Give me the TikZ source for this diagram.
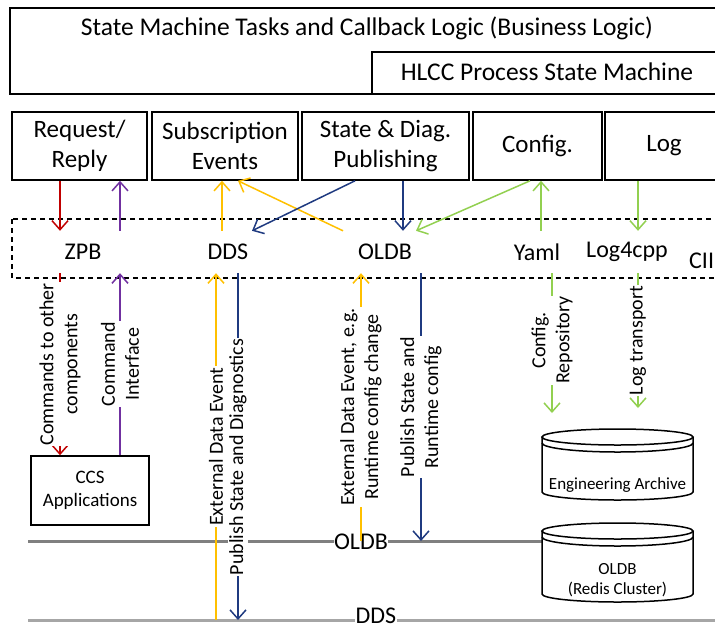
\documentclass[tikz,border=0pt]{standalone}
\usepackage{fontspec}
\setmainfont{Carlito}
\usetikzlibrary{arrows.meta}

\definecolor{cmdred}{HTML}{C00000}
\definecolor{cmdpurple}{HTML}{7030A0}
\definecolor{evtyellow}{HTML}{FFC000}
\definecolor{pubblue}{HTML}{1F3A80}
\definecolor{cfggreen}{HTML}{92D050}
\definecolor{busdark}{HTML}{808080}
\definecolor{buslight}{HTML}{A6A6A6}

\begin{document}
\begin{tikzpicture}[
  x=1pt, y=-1pt,
  >={Straight Barb[length=9pt,width=16pt]},
  box/.style={draw,line width=1.6pt,inner sep=0,minimum height=68,align=center,font=\fontsize{25}{30}\selectfont},
  api/.style={inner sep=0,minimum height=42,font=\fontsize{24}{28}\selectfont},
  flow/.style={->,line width=1.5pt},
  note/.style={rotate=90,fill=white,text=black,inner sep=1pt,align=center,font=\fontsize{20}{24}\selectfont},
  bus/.style={line width=3pt},
  buslabel/.style={fill=white,inner sep=0.5pt,anchor=base,font=\fontsize{24}{28}\selectfont},
  dbtext/.style={align=center,font=\fontsize{17}{20}\selectfont}
  ]

  \useasboundingbox (0,0) rectangle (715,630);

  % business logic and process state machine
  \draw[line width=1.6pt] (10,8) rectangle (730,94);
  \draw[line width=1.6pt] (372,52) rectangle (730,94);
  \node[font=\fontsize{25.5}{30}\selectfont] (logic) at (367,28) {State Machine Tasks and Callback Logic (Business Logic)};
  \node[font=\fontsize{25.5}{30}\selectfont] (hlcc) at (547,72) {HLCC Process State Machine};

  % interface boxes
  \node[box,minimum width=135] (req) at (79.5,146) {Request/\\Reply};
  \node[box,minimum width=146] (sub) at (225,146) {Subscription\\Events};
  \node[box,minimum width=167] (pub) at (385.5,146) {State \& Diag.\\Publishing};
  \node[box,minimum width=129] (cfg) at (537.5,146) {Config.};
  \node[box,minimum width=118] (log) at (664,146) {Log};

  % CII layer
  \draw[line width=1.2pt,dash pattern=on 5pt off 4pt] (12,219) rectangle (730,278);
  \node[api] (zpb) at (83,252) {ZPB};
  \node[api] (dds) at (228,252) {DDS};
  \node[api] (oldb) at (385,252) {OLDB};
  \node[api] (yaml) at (537,252) {Yaml};
  \node[api] (lfc) at (627,252) {Log4cpp};
  \node[api,anchor=west] (cii) at (689,261) {CII};

  % columns of the arrows
  \coordinate (xcmd) at (60,0);
  \coordinate (xif) at (120,0);
  \coordinate (xsub) at (222,0);
  \coordinate (xsubin) at (238,0);
  \coordinate (xddsin) at (252,0);
  \coordinate (xoldbout) at (343,0);
  \coordinate (xpubout) at (355,0);
  \coordinate (xpuboldb) at (403,0);
  \coordinate (xoldbcfg) at (416,0);
  \coordinate (xcfgout) at (530,0);
  \coordinate (xyaml) at (541,0);
  \coordinate (xlog) at (638,0);
  \coordinate (xddsevt) at (216,0);
  \coordinate (xddspub) at (238,0);
  \coordinate (xoldbevt) at (361,0);
  \coordinate (xoldbpub) at (421,0);
  \coordinate (xrepo) at (552,0);

  % buses
  \coordinate (oldbbus) at (28,541);
  \coordinate (redisw) at (542,541);
  \coordinate (ddsbus) at (28,620);
  \coordinate (ddsend) at (730,620);
  \draw[bus,busdark] (oldbbus) -- (redisw);
  \draw[bus,buslight] (ddsbus) -- (ddsend);
  \node[buslabel] (oldbname) at (361,549.5) {OLDB};
  \node[buslabel] (ddsname) at (376,623.5) {DDS};

  % CCS applications
  \node[box,minimum width=118,minimum height=69,font=\fontsize{19}{23}\selectfont] (ccs) at (90,490.5) {CCS\\Applications};

  % databases
  \foreach \t/\b in {429/500,523/602}{
    \draw[line width=1.5pt] (617.5,{\t+8}) ellipse [x radius=75.5,y radius=8];
    \draw[line width=1.5pt] (542,{\t+14}) arc[start angle=180,end angle=0,x radius=75.5,y radius=9];
    \draw[line width=1.5pt] (542,{\t+8}) -- (542,{\b-8}) arc[start angle=180,end angle=0,x radius=75.5,y radius=8] -- (693,{\t+8});
  }
  \node[dbtext] (arch) at (617.5,485) {Engineering Archive};
  \node[dbtext] (redis) at (617.5,580) {OLDB\\(Redis Cluster)};
  \coordinate (repoend) at (552,413);
  \coordinate (logend) at (638,408);

  % interfaces to the CII layer
  \draw[flow,cmdred] (req.south -| xcmd) -- (zpb.north -| xcmd);
  \draw[flow,cmdpurple] (zpb.north -| xif) -- (req.south -| xif);
  \draw[flow,evtyellow] (dds.north -| xsub) -- (sub.south -| xsub);
  \draw[flow,evtyellow] (oldb.north -| xoldbout) -- (sub.south -| xsubin);
  \draw[flow,pubblue] (pub.south -| xpubout) -- (dds.north -| xddsin);
  \draw[flow,pubblue] (pub.south -| xpuboldb) -- (oldb.north -| xpuboldb);
  \draw[flow,cfggreen] (cfg.south -| xcfgout) -- (oldb.north -| xoldbcfg);
  \draw[flow,cfggreen] (yaml.north -| xyaml) -- (cfg.south -| xyaml);
  \draw[flow,cfggreen] (log.south -| xlog) -- (lfc.north -| xlog);

  % CII layer to the outside
  \draw[flow,cmdred] (zpb.south -| xcmd) -- node[note]{Commands to other\\components} (ccs.north -| xcmd);
  \draw[flow,cmdpurple] (ccs.north -| xif) -- node[note]{Command\\Interface} (zpb.south -| xif);
  \draw[flow,evtyellow] (ddsbus -| xddsevt) -- node[note]{External Data Event} (dds.south -| xddsevt);
  \draw[flow,pubblue] (dds.south -| xddspub) -- node[note,pos=0.53]{Publish State and Diagnostics} (ddsbus -| xddspub);
  \draw[flow,evtyellow] (oldbbus -| xoldbevt) -- node[note]{External Data Event, e.g.\\Runtime config change} (oldb.south -| xoldbevt);
  \draw[flow,pubblue] (oldb.south -| xoldbpub) -- node[note]{Publish State and\\Runtime config} (oldbbus -| xoldbpub);
  \draw[flow,cfggreen] (yaml.south -| xrepo) -- node[note,pos=0.48]{Config.\\Repository} (repoend);
  \draw[flow,cfggreen] (lfc.south -| xlog) -- node[note]{Log transport} (logend);

\end{tikzpicture}
\end{document}
